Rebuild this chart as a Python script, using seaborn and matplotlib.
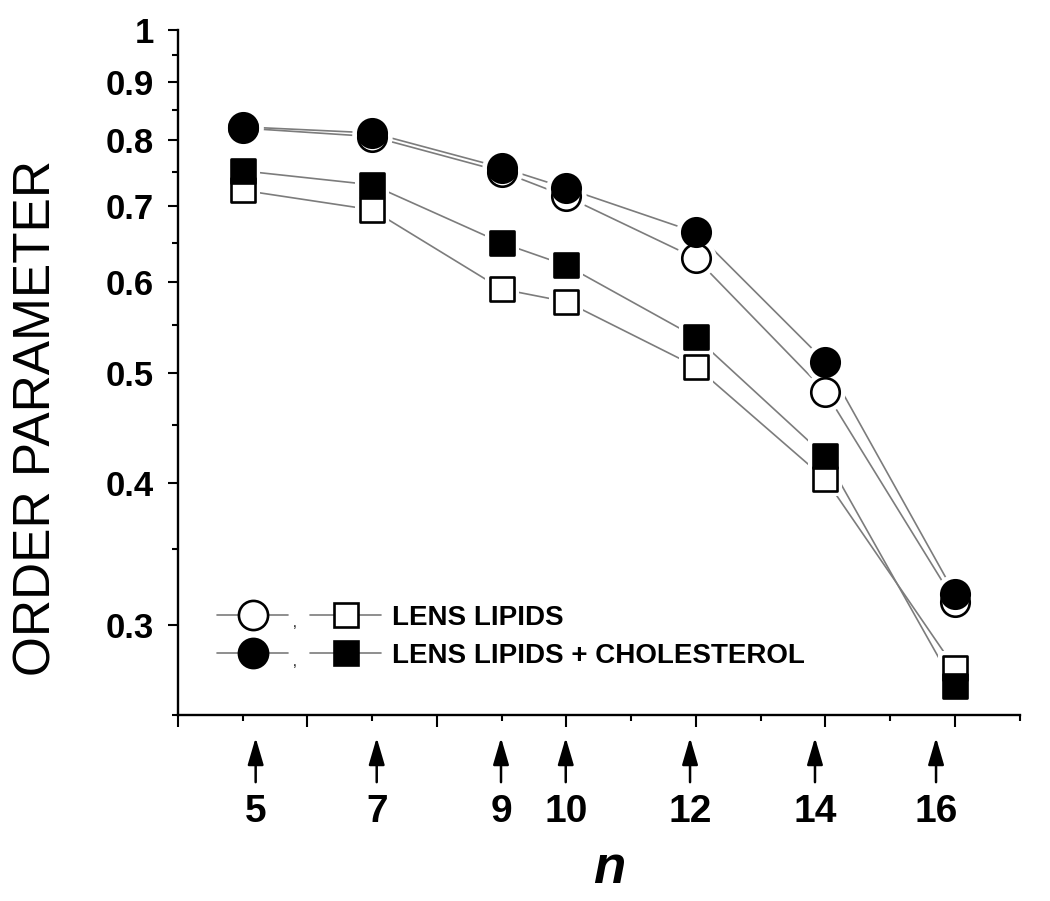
import matplotlib
matplotlib.use("Agg")
import matplotlib.pyplot as plt
from matplotlib.lines import Line2D
from matplotlib.legend_handler import HandlerTuple
from matplotlib.ticker import FixedLocator, NullFormatter
import pandas as pd
import seaborn as sns

# spin-label position along the chain
n = [5, 7, 9, 10, 12, 14, 16]

# order parameter
lipids_circle = [0.820, 0.806, 0.751, 0.714, 0.630, 0.481, 0.3145]
chol_circle = [0.822, 0.812, 0.757, 0.726, 0.664, 0.511, 0.3195]
lipids_square = [0.723, 0.695, 0.592, 0.577, 0.506, 0.403, 0.275]
chol_square = [0.752, 0.731, 0.650, 0.621, 0.537, 0.422, 0.265]

y_ticks = [0.3, 0.4, 0.5, 0.6, 0.7, 0.8, 0.9, 1.0]
y_ticklabels = ["0.3", "0.4", "0.5", "0.6", "0.7", "0.8", "0.9", "1"]
y_minor = [0.25, 0.35, 0.45, 0.55, 0.65, 0.75, 0.85, 0.95]

# the arrows under the axis are drawn a bit off the real n positions
n_labels = ["5", "7", "9", "10", "12", "14", "16"]
arrow_pos = [5.20, 7.07, 8.99, 9.99, 11.91, 13.84, 15.71]

legend_labels = ["LENS LIPIDS", "LENS LIPIDS + CHOLESTEROL"]

frames = []
for name, vals in [("lipids_circle", lipids_circle), ("chol_circle", chol_circle),
                   ("lipids_square", lipids_square), ("chol_square", chol_square)]:
    frames.append(pd.DataFrame({"n": n, "S": vals, "series": name}))
df = pd.concat(frames, ignore_index=True)

styles = {
    "lipids_circle": dict(marker="o", s=420, face="white"),
    "chol_circle": dict(marker="o", s=420, face="black"),
    "lipids_square": dict(marker="s", s=290, face="white"),
    "chol_square": dict(marker="s", s=290, face="black"),
}

sns.set_style("ticks")
plt.rcParams["font.family"] = ["Liberation Sans", "DejaVu Sans"]
plt.rcParams["text.color"] = "black"
plt.rcParams["axes.labelcolor"] = "black"

fig = plt.figure(figsize=(10.5, 9.01), dpi=100)
ax = fig.add_axes([0.1695, 0.2064, 0.8015, 0.7603])

line_col = "#7c7c7c"
for key, st in styles.items():
    sub = df[df["series"] == key]
    sns.lineplot(data=sub, x="n", y="S", ax=ax, color=line_col, linewidth=1.2,
                 zorder=1, legend=False)
    # white halo so lines stop short of the symbols
    halo = st["s"] * 2.0
    sns.scatterplot(data=sub, x="n", y="S", ax=ax, marker=st["marker"], s=halo,
                    color="white", edgecolor="white", linewidth=0, zorder=2,
                    legend=False)

for key, st in styles.items():
    sub = df[df["series"] == key]
    sns.scatterplot(data=sub, x="n", y="S", ax=ax, marker=st["marker"], s=st["s"],
                    color=st["face"], edgecolor="black", linewidth=1.9,
                    zorder=3 if st["face"] == "white" else 4, legend=False)

ax.set_yscale("log")
ax.set_ylim(0.25, 1.0)
ax.set_xlim(4, 17)
ax.yaxis.set_major_locator(FixedLocator(y_ticks))
ax.yaxis.set_minor_locator(FixedLocator(y_minor))
ax.set_yticklabels(y_ticklabels)
ax.yaxis.set_minor_formatter(NullFormatter())
ax.xaxis.set_major_locator(FixedLocator(range(4, 18, 2)))
ax.xaxis.set_minor_locator(FixedLocator(range(5, 18, 2)))
ax.set_xticklabels([])

for side in ["top", "right"]:
    ax.spines[side].set_visible(False)
for side in ["left", "bottom"]:
    ax.spines[side].set_linewidth(1.7)
    ax.spines[side].set_color("black")

ax.tick_params(axis="y", which="major", direction="out", length=7.5, width=1.5,
               pad=10, labelsize=25, colors="black")
ax.tick_params(axis="y", which="minor", direction="out", length=4, width=1.5,
               colors="black")
ax.tick_params(axis="x", which="major", direction="out", length=8.5, width=1.5,
               colors="black")
ax.tick_params(axis="x", which="minor", direction="out", length=4.5, width=1.5,
               colors="black")
for lab in ax.get_yticklabels():
    lab.set_fontweight("bold")

# arrows and the n labels under the axis
for xp, lab in zip(arrow_pos, n_labels):
    ax.annotate("", xy=(xp, -0.033), xytext=(xp, -0.098),
                xycoords=("data", "axes fraction"),
                textcoords=("data", "axes fraction"),
                arrowprops=dict(arrowstyle="-|>,head_length=0.75,head_width=0.22",
                                color="black", lw=1.8, mutation_scale=22,
                                shrinkA=0, shrinkB=0))
    ax.text(xp, -0.141, lab, transform=ax.get_xaxis_transform(), ha="center",
            va="center", fontsize=28, fontweight="bold")

ax.set_ylabel("ORDER PARAMETER", fontsize=37)
ax.yaxis.set_label_coords(-0.138, 0.434)
ax.set_xlabel("n", fontsize=38, fontweight="bold", fontstyle="italic",
              va="baseline")
ax.xaxis.set_label_coords(0.513, -0.245)

# legend
def handle(marker, face, ms):
    return Line2D([], [], color=line_col, lw=1.2, marker=marker, markersize=ms,
                  markerfacecolor=face, markeredgecolor="black",
                  markeredgewidth=1.9)

h1 = (handle("o", "white", 21), handle("s", "white", 17))
h2 = (handle("o", "black", 21), handle("s", "black", 17))
ax.legend([h1, h2], legend_labels,
          handler_map={tuple: HandlerTuple(ndivide=None, pad=0.8)},
          loc="lower left", bbox_to_anchor=(0.0465, 0.067), frameon=False,
          borderpad=0, borderaxespad=0, handlelength=5.9, handletextpad=0.4,
          labelspacing=0.45, prop=dict(size=20, weight="bold"))
for yy in [0.135, 0.078]:
    ax.text(0.139, yy, ",", transform=ax.transAxes, fontsize=10,
            ha="center", va="center")

fig.savefig("out.png", dpi=100)
